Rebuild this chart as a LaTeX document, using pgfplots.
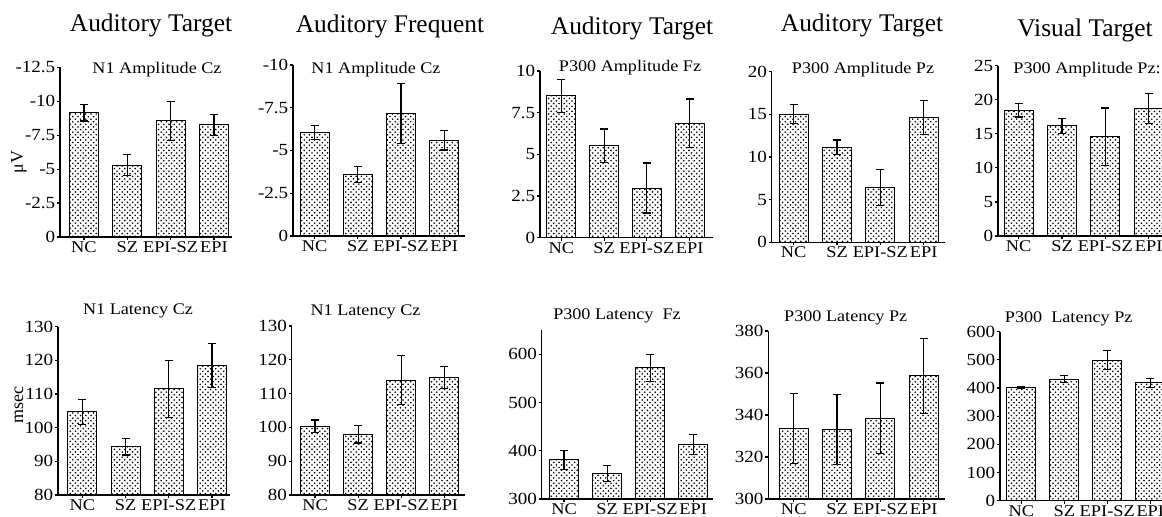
\documentclass[border=0pt]{standalone}
\usepackage{fontspec}
\setmainfont{Liberation Serif}
\newfontfamily\widefont{Liberation Serif}[FakeStretch=1.12]
\usepackage{pgfplots}
\pgfplotsset{compat=1.18}
\usetikzlibrary{patterns}
\pgfdeclarepatternformonly{mydots}{\pgfqpoint{-0.5pt}{-0.5pt}}{\pgfqpoint{2.2pt}{2.2pt}}{\pgfqpoint{2.6pt}{2.6pt}}{%
  \pgfpathcircle{\pgfqpoint{0pt}{0pt}}{0.45pt}%
  \pgfpathcircle{\pgfqpoint{1.3pt}{1.3pt}}{0.45pt}%
  \pgfusepath{fill}%
}
\pgfplotsset{
  panel/.style={
    scale only axis, anchor=south west,
    axis lines=left, axis line style={-, line width=0.7pt, black},
    ybar, bar width=14.5pt, bar shift=0pt,
    tick align=outside, major tick length=1.6pt,
    tick style={black, line width=0.6pt},
    xtick={0,1,2,3},
    xticklabels={NC,SZ,EPI-SZ,EPI},
    ticklabel style={font=\widefont\fontsize{8.5}{10}\selectfont, inner sep=0.6pt},
    xticklabel style={font=\widefont\fontsize{8.2}{10}\selectfont},
    error bars/y dir=both, error bars/y explicit,
    error bars/error bar style={line width=0.6pt, black, solid},
    error bars/error mark options={rotate=90, mark size=2pt, line width=0.6pt, black},
  },
  bars/.style={draw=black, line width=0.5pt, pattern=mydots, pattern color=black},
}
\tikzset{
  ttl/.style={anchor=base, font=\fontsize{12.7}{14}\selectfont, inner sep=0pt},
  sub/.style={anchor=base, font=\widefont\fontsize{8.1}{10}\selectfont, inner sep=0pt},
}
\begin{document}
\begin{tikzpicture}
\useasboundingbox (0pt,0pt) rectangle (581pt,-258.5pt);
% ---------- Row 1 ----------
\begin{axis}[panel, at={(30pt,-118.5pt)}, width=86pt, height=84.85pt,
  xmin=-0.554, xmax=3.418, y dir=reverse, ymin=-12.5, ymax=0,
  ytick={-12.5,-10,-7.5,-5,-2.5,0}, yticklabels={-12.5,-10,-7.5,-5,-2.5,0}]
\addplot[bars] coordinates {(0,-9.15) +- (0,0.6) (1,-5.3) +- (0,0.75) (2,-8.55) +- (0,1.45) (3,-8.25) +- (0,0.8)};
\end{axis}
\begin{axis}[panel, at={(146.5pt,-118pt)}, width=86pt, height=85.5pt,
  xmin=-0.5, xmax=3.48, y dir=reverse, ymin=-10, ymax=0,
  ytick={-10,-7.5,-5,-2.5,0}, yticklabels={-10,-7.5,-5,-2.5,0}]
\addplot[bars] coordinates {(0,-6.06) +- (0,0.41) (1,-3.59) +- (0,0.46) (2,-7.17) +- (0,1.75) (3,-5.61) +- (0,0.58)};
\end{axis}
\begin{axis}[panel, at={(270pt,-118.85pt)}, width=86.5pt, height=83.35pt,
  xmin=-0.503, xmax=3.548, ymin=0, ymax=10,
  ytick={0,2.5,5,7.5,10}, yticklabels={0,2.5,5,7.5,10}]
\addplot[bars] coordinates {(0,8.5) +- (0,1.0) (1,5.52) +- (0,1.0) (2,2.98) +- (0,1.5) (3,6.86) +- (0,1.46)};
\end{axis}
\begin{axis}[panel, at={(385.85pt,-121.15pt)}, width=86.65pt, height=85.3pt,
  xmin=-0.508, xmax=3.494, ymin=0, ymax=20,
  ytick={0,5,10,15,20}, yticklabels={0,5,10,15,20}]
\addplot[bars] coordinates {(0,15.04) +- (0,1.1) (1,11.13) +- (0,0.87) (2,6.45) +- (0,2.1) (3,14.6) +- (0,2.0)};
\end{axis}
\begin{axis}[panel, at={(499pt,-118pt)}, width=88.5pt, height=85.15pt,
  xmin=-0.478, xmax=3.61, ymin=0, ymax=25,
  ytick={0,5,10,15,20,25}, yticklabels={0,5,10,15,20,25}]
\addplot[bars] coordinates {(0,18.48) +- (0,1.0) (1,16.18) +- (0,1.1) (2,14.6) +- (0,4.2) (3,18.77) +- (0,2.2)};
\end{axis}
% ---------- Row 2 ----------
\begin{axis}[panel, at={(29pt,-247.5pt)}, width=86pt, height=84.15pt,
  xmin=-0.563, xmax=3.418, ymin=80, ymax=130,
  ytick={80,90,100,110,120,130}, yticklabels={80,90,100,110,120,130}]
\addplot[bars] coordinates {(0,104.7) +- (0,3.7) (1,94.4) +- (0,2.5) (2,111.5) +- (0,8.4) (3,118.5) +- (0,6.6)};
\end{axis}
\begin{axis}[panel, at={(145.85pt,-247.5pt)}, width=86.65pt, height=84.5pt,
  xmin=-0.541, xmax=3.48, ymin=80, ymax=130,
  ytick={80,90,100,110,120,130}, yticklabels={80,90,100,110,120,130}]
\addplot[bars] coordinates {(0,100.3) +- (0,1.9) (1,98.0) +- (0,2.6) (2,114.0) +- (0,7.3) (3,114.8) +- (0,3.2)};
\end{axis}
\begin{axis}[panel, at={(270.85pt,-249.5pt)}, width=85.65pt, height=84.35pt,
  xmin=-0.52, xmax=3.46, ymin=300, ymax=650,
  ytick={300,400,500,600}, yticklabels={300,400,500,600}]
\addplot[bars] coordinates {(0,381) +- (0,19) (1,353) +- (0,17) (2,572) +- (0,28) (3,413) +- (0,21)};
\end{axis}
\begin{axis}[panel, at={(384.15pt,-249.5pt)}, width=88.35pt, height=84pt,
  xmin=-0.587, xmax=3.49, ymin=300, ymax=380,
  ytick={300,320,340,360,380}, yticklabels={300,320,340,360,380}]
\addplot[bars] coordinates {(0,333.6) +- (0,16.7) (1,333.2) +- (0,16.6) (2,338.4) +- (0,16.8) (3,358.6) +- (0,17.7)};
\end{axis}
\begin{axis}[panel, at={(500pt,-250.35pt)}, width=87.5pt, height=84.5pt,
  xmin=-0.495, xmax=3.575, ymin=0, ymax=600,
  ytick={0,100,200,300,400,500,600}, yticklabels={0,100,200,300,400,500,600}]
\addplot[bars] coordinates {(0,402) +- (0,2) (1,432) +- (0,13) (2,499) +- (0,33) (3,418) +- (0,15)};
\end{axis}
% ---------- Titles ----------
\node[ttl] at (75.5pt,-15.85pt) {Auditory Target};
\node[ttl] at (195pt,-16.35pt) {Auditory Frequent};
\node[ttl] at (316pt,-17.5pt) {Auditory Target};
\node[ttl] at (431pt,-15.85pt) {Auditory Target};
\node[ttl] at (542.5pt,-18.35pt) {Visual Target};
% ---------- Subtitles ----------
\node[sub] at (78.5pt,-37pt) {N1 Amplitude Cz};
\node[sub] at (188pt,-36.65pt) {N1 Amplitude Cz};
\node[sub] at (315pt,-35.85pt) {P300 Amplitude Fz};
\node[sub] at (431.5pt,-37pt) {P300 Amplitude Pz};
\node[sub] at (543.5pt,-37pt) {P300 Amplitude Pz:};
\node[sub] at (69pt,-157.5pt) {N1 Latency Cz};
\node[sub] at (182.75pt,-158pt) {N1 Latency Cz};
\node[sub] at (308.5pt,-160pt) {P300 Latency\ \ Fz};
\node[sub] at (422.85pt,-160.85pt) {P300 Latency Pz};
\node[sub] at (534.35pt,-161.15pt) {P300\ \ Latency Pz};
% ---------- Y labels ----------
\node[rotate=90, font=\fontsize{9}{10}\selectfont] at (9.5pt,-81pt) {μV};
\node[rotate=90, font=\fontsize{9}{10}\selectfont] at (9.5pt,-202.5pt) {msec};
\end{tikzpicture}
\end{document}
